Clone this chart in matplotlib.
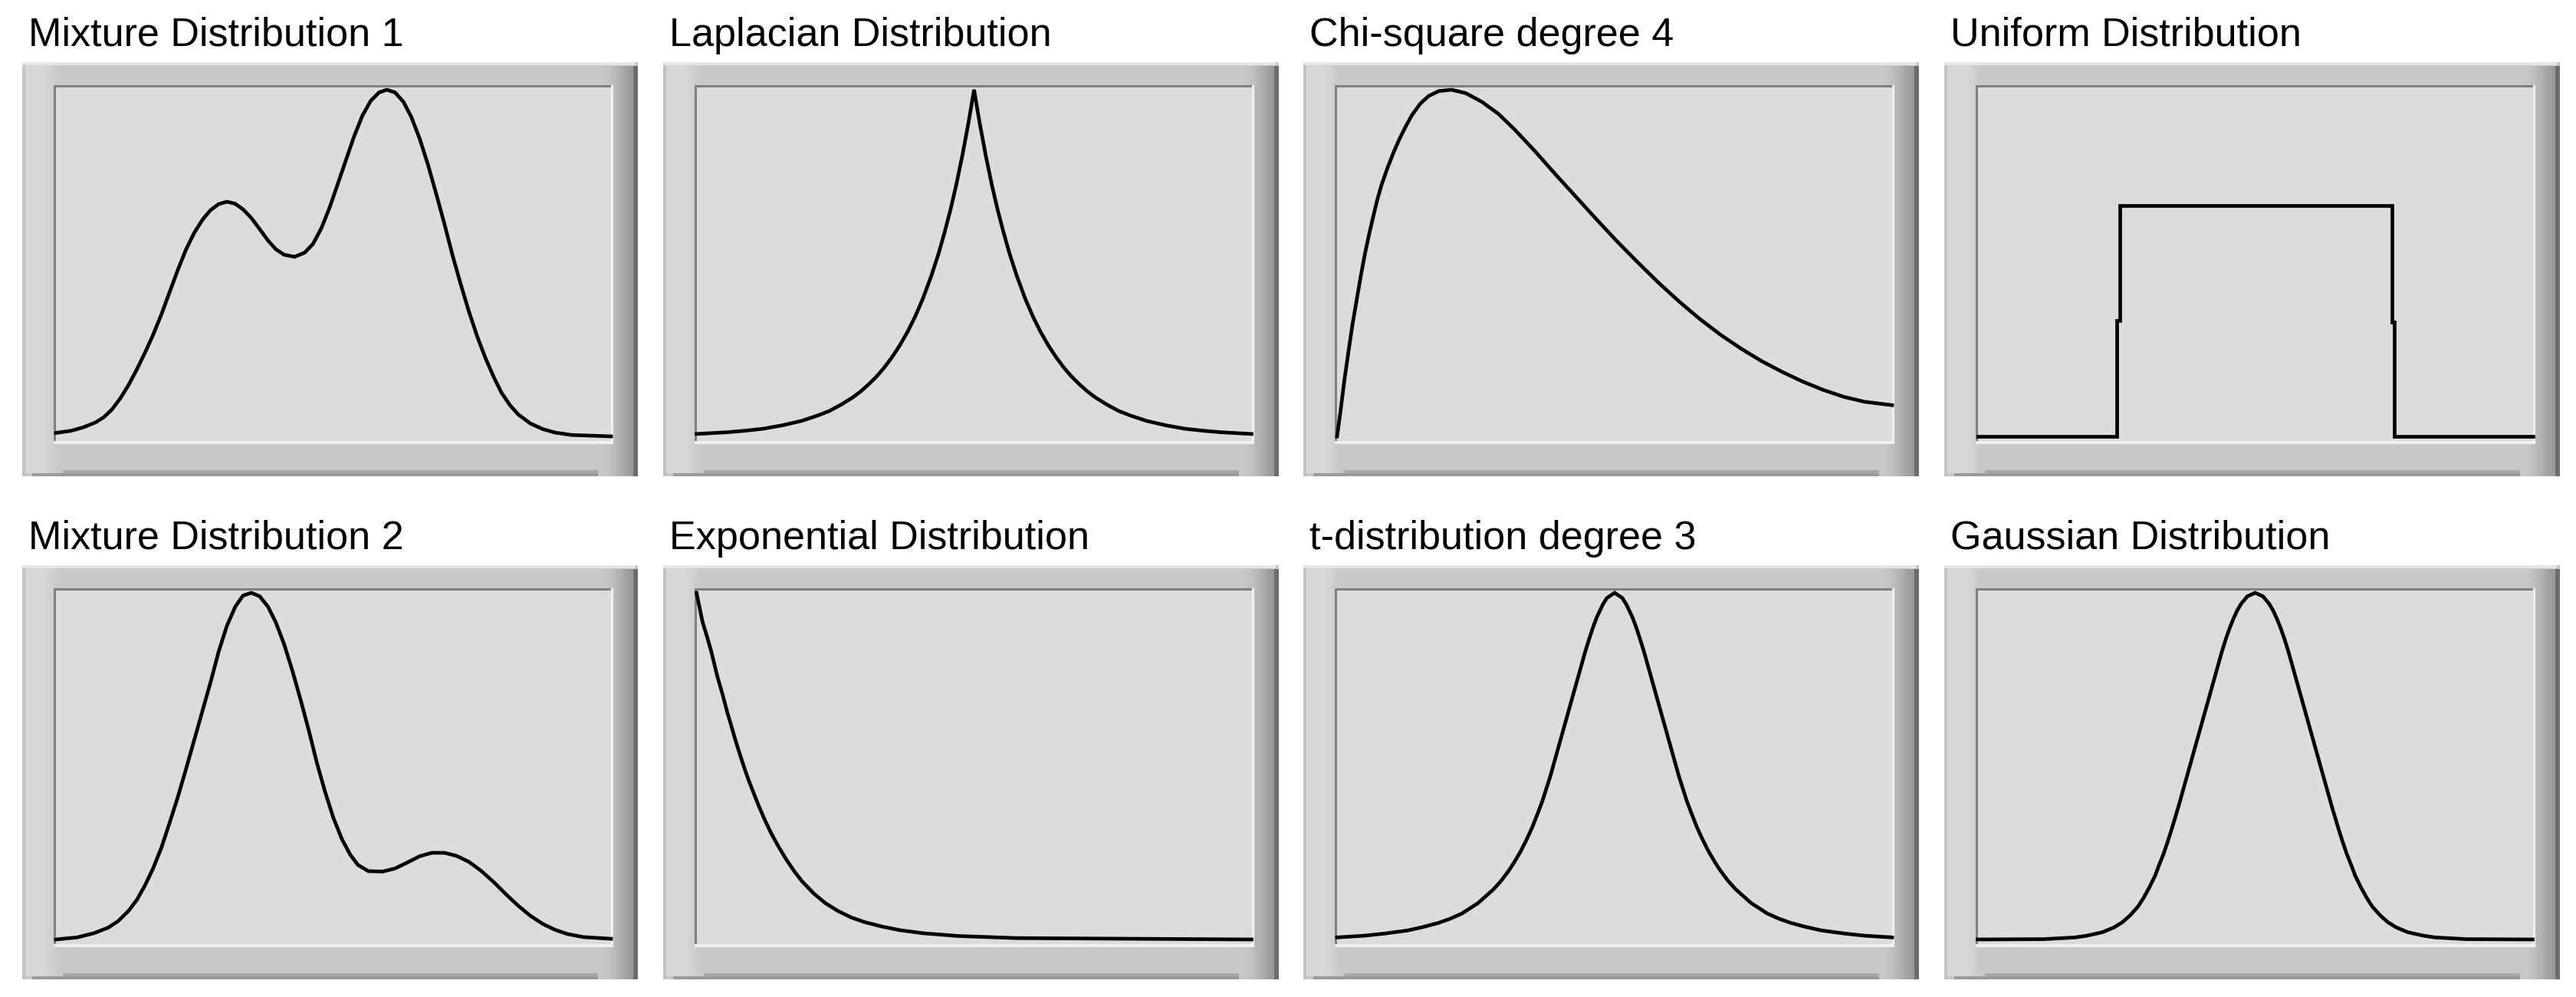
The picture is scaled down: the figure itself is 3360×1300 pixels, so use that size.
import numpy as np
import matplotlib.pyplot as plt
from matplotlib.patches import Rectangle

# values (x and height both as a fraction of the plot area)
mix1_x = [0, .027, .049, .071, .086, .101, .116, .130, .145, .160, .175, .190, .204, .219, .234, .249,
          .264, .278, .293, .308, .323, .337, .352, .367, .382, .396, .411, .430, .448, .463, .478, .493,
          .507, .522, .537, .552, .567, .582, .596, .611, .626, .640, .655, .670, .685, .700, .714, .729,
          .744, .759, .774, .789, .803, .818, .833, .855, .877, .899, .929, 1.0]
mix1_y = [.010, .016, .026, .040, .055, .078, .110, .146, .191, .240, .293, .352, .413, .478, .538, .587,
          .625, .652, .670, .677, .671, .655, .630, .598, .565, .540, .524, .518, .530, .555, .600, .660,
          .725, .795, .865, .925, .968, .992, 1.0, .992, .965, .922, .860, .785, .700, .612, .525, .440,
          .360, .288, .225, .170, .125, .090, .063, .037, .021, .011, .004, 0]

lap_x = [0, .056, .085, .12, .155, .19, .218, .239, .261, .282, .296, .31, .324, .338, .352, .366, .38,
         .394, .408, .423, .436, .447, .458, .468, .479, .49, .5,
         .51, .521, .532, .542, .553, .564, .577, .592, .606, .62, .634, .648, .662, .676, .69, .704,
         .718, .739, .761, .782, .81, .845, .88, .915, .944, 1.0]
lap_y = [.007, .012, .016, .022, .032, .045, .06, .073, .092, .113, .13, .15, .172, .198, .228, .262, .301,
         .346, .398, .463, .527, .589, .657, .726, .811, .905, 1.0,
         .905, .811, .726, .657, .589, .527, .463, .398, .346, .301, .262, .228, .198, .172, .15, .13,
         .113, .092, .073, .06, .045, .032, .022, .016, .012, .007]

chi_x = [0, .006, .013, .021, .028, .036, .043, .050, .058, .065, .072, .080, .091, .102, .113, .124,
         .135, .150, .165, .183, .206, .232, .261, .291, .320, .357, .394, .431, .468, .506, .543, .580,
         .617, .654, .691, .728, .765, .802, .839, .876, .913, .950, 1.0]
chi_y = [0, .070, .160, .250, .325, .400, .465, .525, .585, .633, .680, .725, .775, .820, .860, .895,
         .927, .960, .982, .996, 1.0, .990, .965, .930, .885, .822, .755, .690, .625, .560, .500, .442,
         .388, .338, .293, .253, .217, .186, .158, .134, .114, .100, .090]

uni_x = [0, .250, .250, .256, .256, .746, .746, .750, .750, 1.0]
uni_y = [0, 0, .335, .335, .667, .667, .330, .330, 0, 0]

mix2_x = [0, .038, .068, .094, .112, .131, .146, .160, .175, .190, .204, .219, .234, .249, .264, .279,
          .293, .308, .323, .337, .352, .367, .382, .396, .411, .426, .441, .456, .470, .485, .500, .515,
          .530, .544, .563, .589, .611, .633, .655, .677, .700, .722, .744, .766, .789, .811, .833, .855,
          .877, .899, .921, .950, 1.0]
mix2_y = [0, .006, .018, .034, .053, .083, .115, .155, .205, .265, .333, .408, .490, .575, .660, .745,
          .830, .905, .960, .992, 1.0, .990, .960, .915, .852, .775, .690, .600, .510, .425, .350, .290,
          .245, .215, .197, .196, .205, .222, .240, .250, .250, .241, .224, .198, .165, .130, .097, .068,
          .045, .028, .016, .007, .002]

exp_x = [0, .011, .020, .027, .032, .037, .046, .051, .056, .062, .067, .073, .081, .088, .095,
         .106, .113, .123, .134, .148, .162, .176, .190, .211, .232, .254, .278, .303, .335, .366, .408,
         .472, .577, 1.0]
exp_y = [1.0, .915, .868, .828, .795, .762, .712, .682, .652, .620, .592, .560, .520, .486, .455,
         .410, .382, .345, .308, .267, .230, .197, .168, .133, .105, .083, .064, .050, .037, .027, .018,
         .010, .004, 0]

t3_x = [0, .05, .085, .127, .155, .183, .204, .225, .254, .282, .296, .31, .32, .331, .342, .352, .363,
        .37, .377, .384, .391, .398, .405, .412, .419, .426, .433, .44, .447, .454, .461, .468, .479,
        .486, .5,
        .514, .521, .532, .539, .546, .553, .56, .567, .574, .581, .588, .595, .602, .609, .616, .623,
        .63, .637, .648, .658, .669, .68, .69, .704, .718, .746, .775, .796, .817, .845, .873, .915,
        .95, 1.0]
t3_y = [.006, .011, .017, .026, .036, .048, .060, .075, .105, .145, .170, .200, .225, .255, .290, .325,
        .370, .400, .435, .470, .510, .550, .590, .630, .670, .710, .750, .790, .830, .866, .900, .930,
        .967, .985, 1.0,
        .985, .967, .930, .900, .866, .830, .790, .750, .710, .670, .630, .590, .550, .510, .470, .435,
        .400, .370, .325, .290, .255, .225, .200, .170, .145, .105, .075, .060, .048, .036, .026, .017,
        .011, .006]

gau_x = [0, .12, .176, .197, .225, .246, .261, .275, .289, .299, .31, .32, .327, .335, .342, .349, .356,
         .363, .37, .377, .384, .391, .398, .405, .412, .419, .426, .433, .44, .447, .454, .461, .468,
         .475, .486, .5,
         .514, .525, .532, .539, .546, .553, .56, .567, .574, .581, .588, .595, .602, .609, .616, .623,
         .63, .637, .644, .651, .658, .665, .673, .68, .69, .701, .711, .725, .739, .754, .775, .803,
         .824, .88, 1.0]
gau_y = [0, .001, .006, .011, .021, .035, .050, .070, .095, .120, .152, .185, .215, .247, .280, .315, .352,
         .390, .430, .470, .510, .550, .590, .630, .670, .710, .750, .790, .830, .866, .898, .926, .950,
         .969, .990, 1.0,
         .990, .969, .950, .926, .898, .866, .830, .790, .750, .710, .670, .630, .590, .550, .510, .470,
         .430, .390, .352, .315, .280, .247, .215, .185, .152, .120, .095, .070, .050, .035, .021, .011,
         .006, .001, 0]

titles = ["Mixture Distribution 1", "Laplacian Distribution", "Chi-square degree 4", "Uniform Distribution",
          "Mixture Distribution 2", "Exponential Distribution", "t-distribution degree 3", "Gaussian Distribution"]
curves = [(mix1_x, mix1_y), (lap_x, lap_y), (chi_x, chi_y), (uni_x, uni_y),
          (mix2_x, mix2_y), (exp_x, exp_y), (t3_x, t3_y), (gau_x, gau_y)]

W, H = 3360, 1300
fig = plt.figure(figsize=(W / 100, H / 100), dpi=100)
fig.patch.set_facecolor("white")
bg = fig.add_axes([0, 0, 1, 1])
bg.axis("off")


def rect(x0, y0, x1, y1, color, z):
    bg.add_patch(Rectangle((x0, y0), x1 - x0, y1 - y0, facecolor=color, edgecolor="none", lw=0, zorder=z))


def grad(x0, y0, x1, y1, vals, z):
    bg.imshow(np.array(vals)[None, :], cmap="gray", vmin=0, vmax=1, extent=(x0, x1, y1, y0),
              aspect="auto", interpolation="bilinear", zorder=z)


for i, title in enumerate(titles):
    ox = 835.5 * (i % 4)
    oy = 656 * (i // 4)

    # bevelled frame
    rect(29 + ox, 81 + oy, 832 + ox, 621 + oy, "#c8c8c8", 1)
    rect(29 + ox, 81 + oy, 828 + ox, 85 + oy, "#e6e6e6", 2)
    rect(62 + ox, 613 + oy, 832 + ox, 617 + oy, "#a8a8a8", 2)
    rect(42 + ox, 617 + oy, 832 + ox, 621 + oy, "#9a9a9a", 2)
    rect(29 + ox, 85 + oy, 33 + ox, 621 + oy, "#c2c2c2", 3)
    grad(33 + ox, 85 + oy, 82 + ox, 617 + oy, [.84, .84, .84, .84, .84, .83, .81, .79, .785], 3)
    grad(780 + ox, 86 + oy, 828 + ox, 621 + oy, [.785, .78, .76, .73, .70, .66, .62, .60], 4)
    rect(826 + ox, 86 + oy, 832 + ox, 621 + oy, "#6c6c6c", 5)

    # plot area with sunken border
    rect(70 + ox, 111 + oy, 800 + ox, 579 + oy, "#f0f0f0", 6)
    rect(70 + ox, 111 + oy, 797 + ox, 575 + oy, "#808080", 7)
    rect(73 + ox, 114 + oy, 797 + ox, 575 + oy, "#dcdcdc", 8)

    fig.text((37 + ox) / W, 1 - (60 + oy) / H, title, fontsize=37.5, family="Liberation Sans",
             ha="left", va="baseline", color="black")

    ax = fig.add_axes([(73 + ox) / W, 1 - (569 + oy) / H, 724 / W, 452 / H])
    ax.patch.set_alpha(0)
    ax.axis("off")
    ax.set_xlim(0, 1)
    ax.set_ylim(0, 1)
    xs, ys = curves[i]
    ax.plot(xs, ys, color="black", lw=3.4, clip_on=False, solid_joinstyle="miter")

bg.set_xlim(0, W)
bg.set_ylim(H, 0)

fig.savefig("out.png", dpi=100, facecolor="white")
